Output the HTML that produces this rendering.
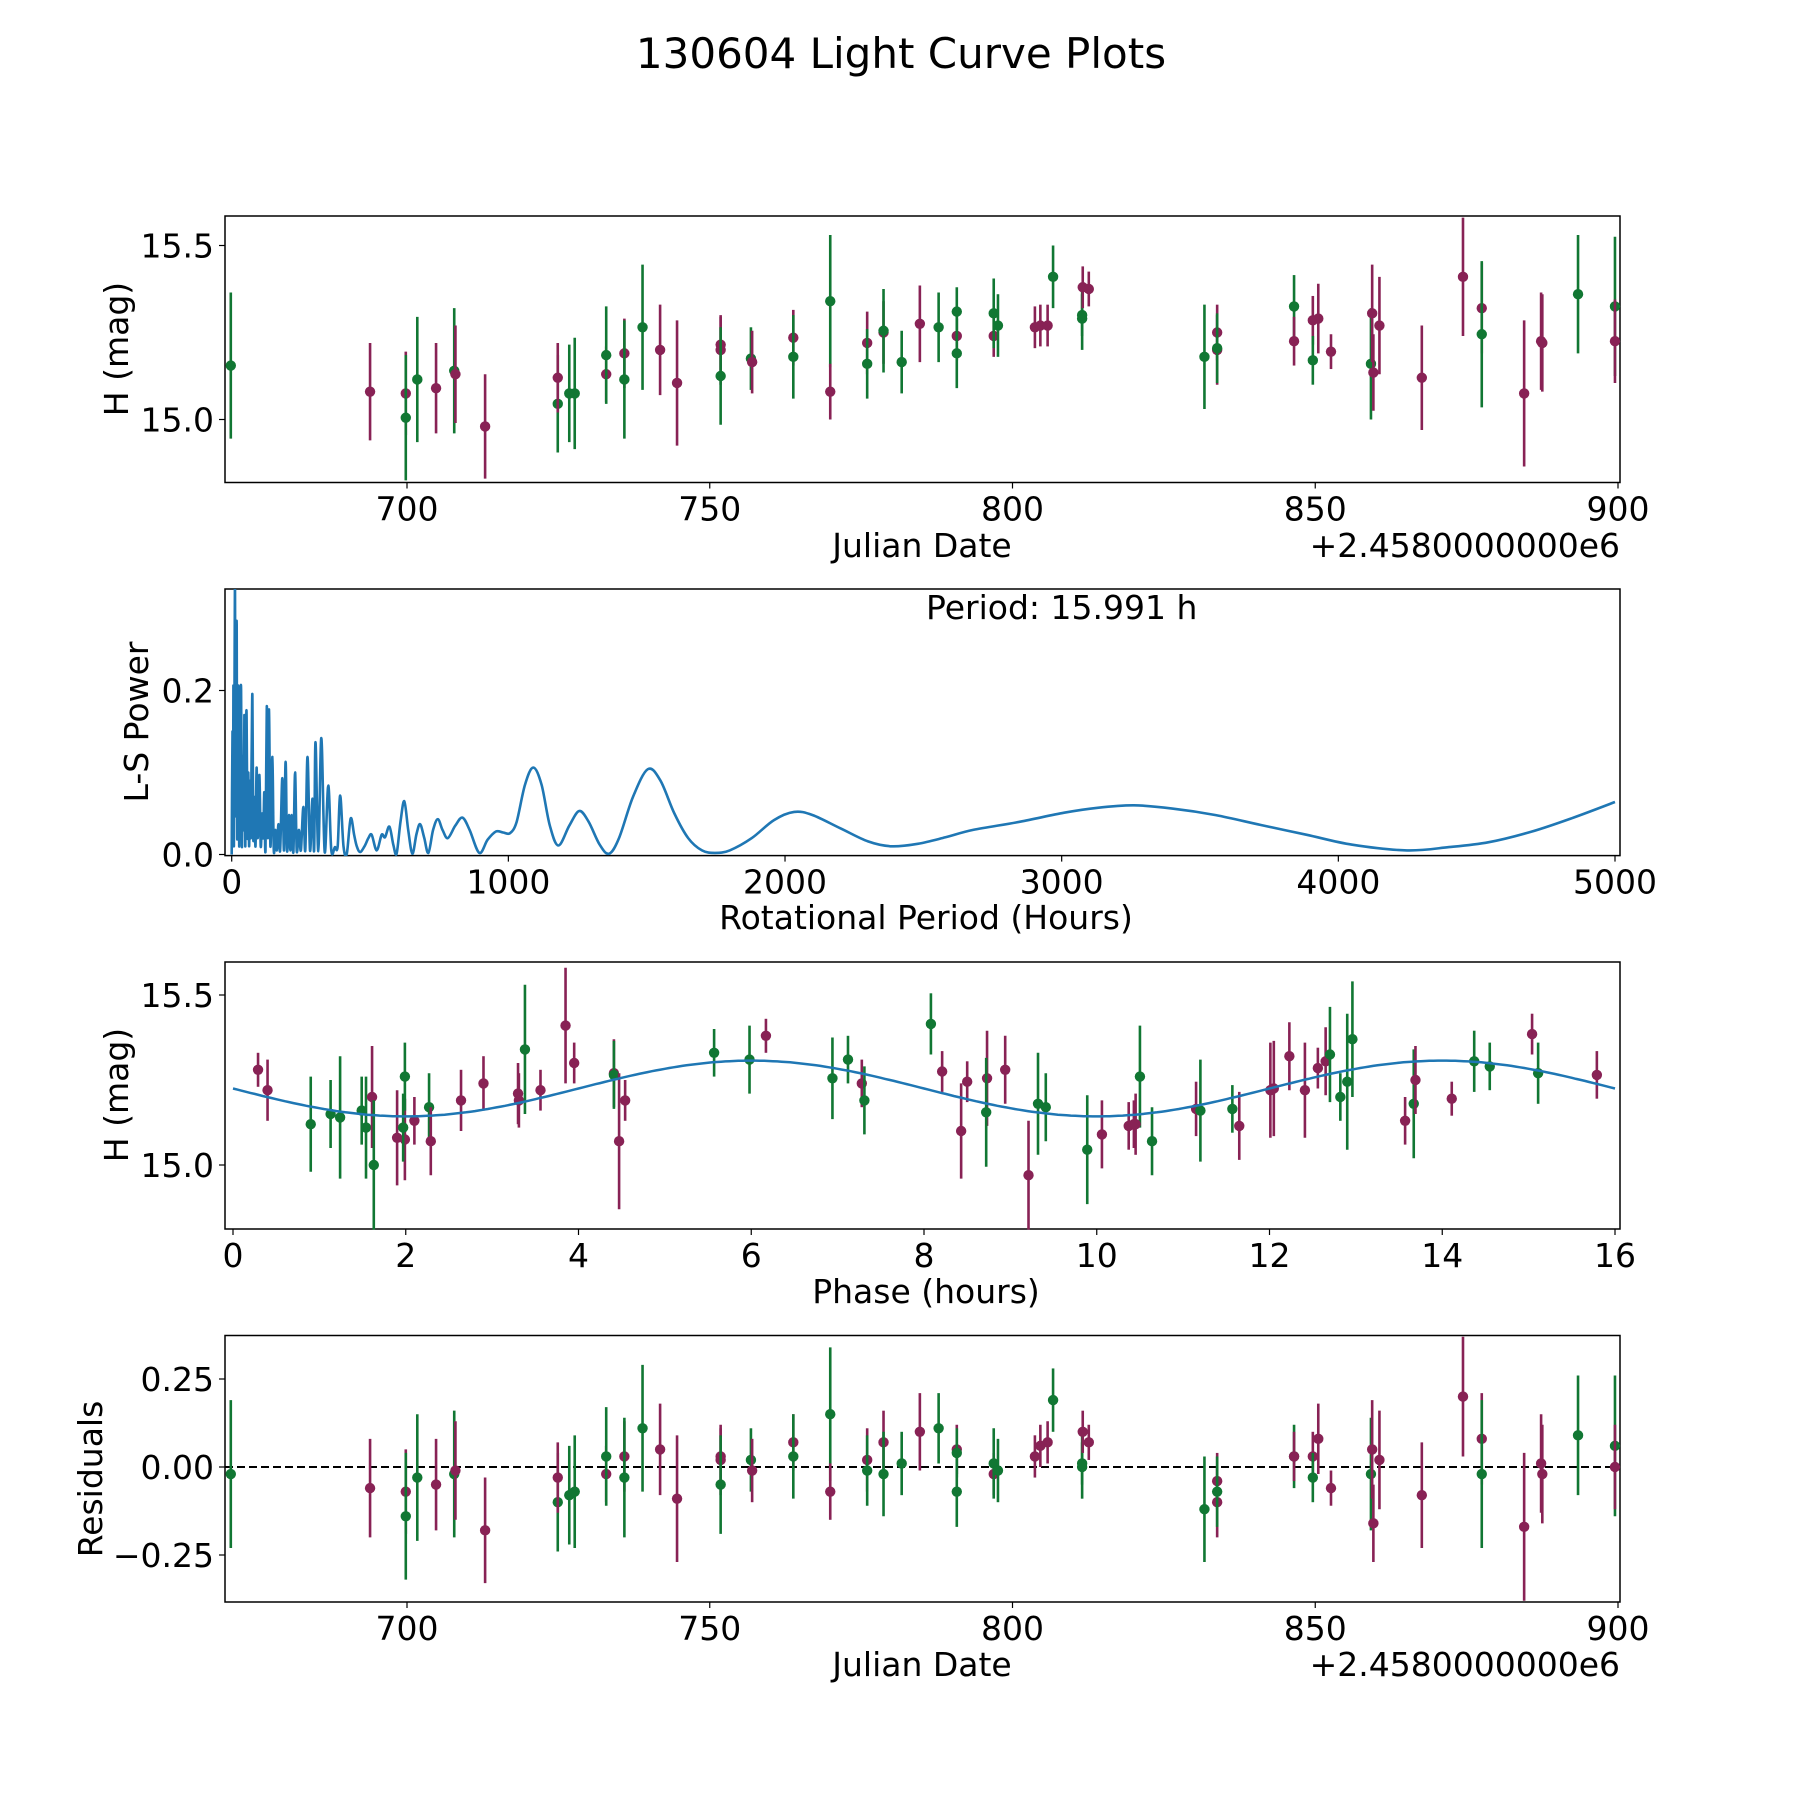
<!DOCTYPE html>
<html><head><meta charset="utf-8"><title>130604 Light Curve Plots</title>
<style>html,body{margin:0;padding:0;background:#fff}svg{display:block}text{font-family:"DejaVu Sans","Liberation Sans",sans-serif;fill:#000}</style>
</head><body>
<svg id="fig" width="1800" height="1800" viewBox="0 0 1800 1800" xmlns="http://www.w3.org/2000/svg">
<rect width="1800" height="1800" fill="#fff"/>
<text x="901" y="68" font-size="42" text-anchor="middle">130604 Light Curve Plots</text>
<defs><clipPath id="clip2"><rect x="225" y="589" width="1395" height="267"/></clipPath></defs>
</svg>
<script>
// ---- light curve data (JD offset from 2458000) ----
const jdDates = [670.9,693.9,699.8,699.8,701.7,704.8,707.8,708.0,712.9,724.9,724.9,726.8,727.7,732.9,732.9,735.9,735.9,738.9,741.8,744.6,751.8,751.8,751.8,756.8,757.0,763.8,763.8,769.9,769.9,776.0,776.0,778.7,778.7,781.7,784.7,787.8,790.8,790.8,790.8,796.9,796.9,797.6,803.7,804.6,805.8,806.7,811.5,811.5,811.6,812.6,831.7,833.8,833.8,833.8,846.5,846.5,849.6,849.6,850.5,852.6,859.2,859.4,859.6,860.6,867.6,874.4,877.5,877.5,884.5,887.3,887.5,893.4,899.5,899.5];
const hMag = [15.155,15.08,15.075,15.005,15.115,15.09,15.14,15.13,14.98,15.045,15.12,15.075,15.075,15.13,15.185,15.19,15.115,15.265,15.2,15.105,15.215,15.2,15.125,15.175,15.165,15.235,15.18,15.34,15.08,15.22,15.16,15.25,15.255,15.165,15.275,15.265,15.24,15.31,15.19,15.24,15.305,15.27,15.265,15.27,15.27,15.41,15.29,15.3,15.38,15.375,15.18,15.25,15.2,15.205,15.325,15.225,15.285,15.17,15.29,15.195,15.16,15.305,15.135,15.27,15.12,15.41,15.32,15.245,15.075,15.225,15.22,15.36,15.325,15.225];
const hErr = [0.21,0.14,0.12,0.18,0.18,0.13,0.18,0.14,0.15,0.14,0.10,0.14,0.16,0.08,0.14,0.10,0.17,0.18,0.13,0.18,0.08,0.10,0.14,0.09,0.09,0.08,0.12,0.19,0.08,0.09,0.10,0.09,0.12,0.09,0.11,0.10,0.07,0.07,0.10,0.06,0.10,0.09,0.06,0.06,0.06,0.09,0.09,0.06,0.06,0.05,0.15,0.08,0.10,0.10,0.09,0.07,0.07,0.07,0.10,0.05,0.16,0.14,0.11,0.14,0.15,0.17,0.13,0.21,0.21,0.14,0.14,0.17,0.20,0.12];
const filterBand = ["g","p","p","g","g","p","g","p","p","g","p","g","g","p","g","p","g","g","p","p","p","p","g","g","p","p","g","g","p","p","g","p","g","g","p","g","p","g","g","p","g","g","p","p","p","g","g","g","p","p","g","p","p","g","g","p","p","g","p","p","g","p","p","p","p","p","p","g","p","p","p","g","g","p"];
const residuals = [-0.02,-0.06,-0.07,-0.14,-0.03,-0.05,-0.02,-0.01,-0.18,-0.10,-0.03,-0.08,-0.07,-0.02,0.03,0.03,-0.03,0.11,0.05,-0.09,0.03,0.02,-0.05,0.02,-0.01,0.07,0.03,0.15,-0.07,0.02,-0.01,0.07,-0.02,0.01,0.10,0.11,0.05,0.04,-0.07,-0.02,0.01,-0.01,0.03,0.06,0.07,0.19,0.00,0.01,0.10,0.07,-0.12,-0.04,-0.10,-0.07,0.03,0.03,0.03,-0.03,0.08,-0.06,-0.02,0.05,-0.16,0.02,-0.08,0.20,0.08,-0.02,-0.17,0.01,-0.02,0.09,0.06,0.00];
// ---- phase-folded data ----
const phaseHours = [0.29,0.40,0.90,1.13,1.24,1.49,1.54,1.61,1.63,1.90,1.99,1.97,1.99,2.10,2.27,2.29,2.64,2.90,3.30,3.31,3.38,3.56,3.85,3.95,4.41,4.41,4.47,4.54,5.57,5.98,6.17,6.94,7.12,7.28,7.31,8.08,8.21,8.43,8.50,8.73,8.72,8.94,9.21,9.32,9.41,9.89,10.06,10.37,10.43,10.50,10.45,10.64,11.15,11.20,11.57,11.65,12.01,12.05,12.23,12.41,12.56,12.65,12.70,12.82,12.90,12.96,13.57,13.67,13.69,14.11,14.37,14.55,15.04,15.11,15.79];
const phaseMag = [15.28,15.22,15.12,15.15,15.14,15.16,15.11,15.20,15.00,15.08,15.075,15.11,15.26,15.13,15.17,15.07,15.19,15.24,15.21,15.19,15.34,15.22,15.41,15.30,15.27,15.265,15.07,15.19,15.33,15.31,15.38,15.255,15.31,15.24,15.19,15.415,15.275,15.10,15.245,15.255,15.155,15.28,14.97,15.18,15.17,15.045,15.09,15.115,15.12,15.26,15.12,15.07,15.165,15.16,15.165,15.115,15.22,15.225,15.32,15.22,15.285,15.305,15.325,15.20,15.245,15.37,15.13,15.18,15.25,15.195,15.305,15.29,15.385,15.27,15.265];
const phaseErr = [0.05,0.09,0.14,0.10,0.18,0.10,0.15,0.15,0.19,0.14,0.12,0.10,0.10,0.07,0.10,0.10,0.09,0.08,0.09,0.08,0.19,0.06,0.17,0.06,0.10,0.10,0.20,0.06,0.07,0.10,0.05,0.12,0.07,0.07,0.10,0.09,0.06,0.14,0.06,0.14,0.16,0.10,0.16,0.15,0.10,0.16,0.10,0.07,0.07,0.15,0.09,0.10,0.08,0.15,0.07,0.10,0.14,0.14,0.10,0.14,0.06,0.10,0.14,0.07,0.20,0.17,0.07,0.16,0.10,0.05,0.09,0.07,0.06,0.09,0.07];
const phaseBand = ["p","p","g","g","g","g","g","p","g","p","p","g","g","p","g","p","p","p","p","p","g","p","p","p","p","g","p","p","g","g","p","g","g","p","g","g","p","p","p","p","g","p","p","g","g","g","p","p","p","g","p","g","p","g","g","p","p","p","p","p","p","p","g","g","g","g","p","g","p","p","g","g","p","g","p"];
// fit model parameters
const fitMean = [15.225];
const fitAmp = [0.082];
const fitHalfPeriod = [8.0];
const fitPhase0 = [4.0];
// ---- periodogram ----
const pgHours = [0,3,5,6,8,10,12,14,16,18,20,22,24,27,30,34,37,40,43,46,49,52,54,57,60,63,66,69,72,75,78,82,86,90,94,100,105,110,114,118,122,127,131,135,140,147,152,158,163,169,175,183,189,195,200,207,212,217,223,229,235,243,250,259,266,274,283,292,298,303,313,324,336,349,360,373,383,392,404,416,430,443,452,464,480,494,506,524,542,554,570,584,596,610,624,638,653,668,681,696,711,728,745,762,781,808,834,860,895,925,955,980,1006,1030,1060,1090,1120,1150,1181,1220,1256,1290,1330,1364,1400,1450,1504,1550,1600,1650,1700,1747,1800,1880,1960,2033,2100,2200,2300,2384,2480,2580,2680,2850,3009,3130,3261,3400,3557,3720,3886,4050,4248,4400,4544,4700,4850,5000];
const pgPower = [0,0.15,0.02,0.206,0.01,0.2,0.33,0.05,0.18,0.28,0.02,0.17,0.194,0.01,0.15,0.2,0.01,0.12,0.03,0.17,0.01,0.14,0.168,0.02,0.1,0.01,0.09,0.02,0.12,0.193,0.02,0.07,0.01,0.106,0.02,0.097,0.01,0.05,0.02,0.076,0.005,0.181,0.02,0.177,0.01,0.119,0.005,0.03,0.005,0.037,0.005,0.093,0.005,0.113,0.005,0.048,0.005,0.048,0.003,0.1,0.005,0.03,0.005,0.058,0.005,0.119,0.005,0.068,0.005,0.137,0.004,0.142,0.003,0.084,0.005,0.009,0.01,0.072,0.01,0.001,0.044,0.023,0.01,0.003,0.01,0.02,0.024,0.005,0.024,0.021,0.034,0.012,0.001,0.04,0.065,0.03,0.001,0.025,0.037,0.02,0.002,0.03,0.043,0.03,0.02,0.035,0.045,0.03,0.002,0.018,0.028,0.027,0.026,0.04,0.085,0.106,0.085,0.035,0.011,0.035,0.053,0.04,0.012,0.001,0.02,0.07,0.104,0.09,0.05,0.02,0.005,0.002,0.005,0.02,0.042,0.052,0.048,0.032,0.016,0.010,0.013,0.021,0.030,0.040,0.051,0.057,0.060,0.056,0.048,0.036,0.024,0.012,0.005,0.009,0.015,0.028,0.045,0.064];
const jdTicks = [700,750,800,850,900];
const magTicks = [15.0,15.5];
const pgXTicks = [0,1000,2000,3000,4000,5000];
const pgYTicks = [0.0,0.2];
const phaseTicks = [0,2,4,6,8,10,12,14,16];
const residTicks = [-0.25,0,0.25];

const NS = "http://www.w3.org/2000/svg";
const svg = document.getElementById('fig');
const COL = {g:"#117733", p:"#882255"};
function mk(tag, attrs, parent){const e=document.createElementNS(NS,tag);for(const k in attrs)e.setAttribute(k,attrs[k]);(parent||svg).appendChild(e);return e;}
function lin(d0,d1,r0,r1){return v=>r0+(v-d0)*(r1-r0)/(d1-d0);}
const L=225,R=1620;
const panels=[{top:216,bot:482.5},{top:589,bot:855.6},{top:962,bot:1229},{top:1335.5,bot:1602}];
const xJD = lin(700,900,407,1618);
const y1 = lin(15.0,15.5,419.5,245.5);
const xPG = lin(0,5000,231.7,1615);
const yPG = lin(0,0.2,854.5,690.5);
const xPH = lin(0,16,233,1615);
const y3 = lin(15.0,15.5,1165,995);
const y4 = lin(0,0.25,1467,1379);
const fmtMinus = s => s.replace('-', '\u2212');

function axesFrame(p, name){
  const r=mk('rect',{x:L,y:p.top,width:R-L,height:p.bot-p.top,fill:'none',stroke:'#000','stroke-width':1.5});
  
  
}
function xTicks(p, ticks, fx, fmt, name){
  const g=mk('g',{});
  
  
  ticks.forEach(t=>{const x=fx(t);mk('line',{x1:x,x2:x,y1:p.bot,y2:p.bot+6,stroke:'#000','stroke-width':1.2},g);
    const tx=mk('text',{x:x,y:p.bot+38,'font-size':33,'text-anchor':'middle'},g);tx.textContent=fmt(t);});
}
function yTicks(p, ticks, fy, fmt, name){
  const g=mk('g',{});
  
  
  ticks.forEach(t=>{const y=fy(t);mk('line',{x1:L-6,x2:L,y1:y,y2:y,stroke:'#000','stroke-width':1.2},g);
    const tx=mk('text',{x:L-11,y:y+12,'font-size':33,'text-anchor':'end'},g);tx.textContent=fmt(t);});
}
function label(x,y,txt,rot,name,anchor){
  const t=mk('text',{x:x,y:y,'font-size':33,'text-anchor':anchor||'middle'});
  if(rot)t.setAttribute('transform','rotate(-90 '+x+' '+y+')');
  t.textContent=txt;
  
  
}
function errPoint(g,x,yc,ylo,yhi,col){
  mk('line',{x1:x,x2:x,y1:ylo,y2:yhi,stroke:col,'stroke-width':2.6},g);
  mk('circle',{cx:x,cy:yc,r:5.2,fill:col},g);
}

// Panel 1
axesFrame(panels[0],'lightcurve-axes');
const g1=mk('g',{});


jdDates.forEach((d,i)=>errPoint(g1,xJD(d),y1(hMag[i]),y1(hMag[i]-hErr[i]),y1(hMag[i]+hErr[i]),COL[filterBand[i]]));
xTicks(panels[0],jdTicks,xJD,t=>String(t),'lightcurve-x-ticks');
yTicks(panels[0],magTicks,y1,t=>t.toFixed(1),'lightcurve-y-ticks');
label(922,557,'Julian Date',false,'lightcurve-x-title');
label(1620,557,'+2.4580000000e6',false,'lightcurve-offset-text','end');
label(128,349,'H (mag)',true,'lightcurve-y-title');

// Panel 2 (Catmull-Rom smoothed)
axesFrame(panels[1],'periodogram-axes');
const P=pgHours.map((h,i)=>[xPG(h),yPG(pgPower[i])]);
let dp='M'+P[0][0].toFixed(1)+' '+P[0][1].toFixed(1);
for(let i=0;i<P.length-1;i++){
  const p0=P[Math.max(0,i-1)],p1=P[i],p2=P[i+1],p3=P[Math.min(P.length-1,i+2)];
  const c1x=p1[0]+(p2[0]-p0[0])/6,c1y=p1[1]+(p2[1]-p0[1])/6;
  const c2x=p2[0]-(p3[0]-p1[0])/6,c2y=p2[1]-(p3[1]-p1[1])/6;
  dp+='C'+c1x.toFixed(1)+' '+c1y.toFixed(1)+' '+c2x.toFixed(1)+' '+c2y.toFixed(1)+' '+p2[0].toFixed(1)+' '+p2[1].toFixed(1);
}
const pl=mk('path',{d:dp,fill:'none',stroke:'#1f77b4','stroke-width':2.6,'stroke-linejoin':'round','clip-path':'url(#clip2)'});


xTicks(panels[1],pgXTicks,xPG,t=>String(t),'periodogram-x-ticks');
yTicks(panels[1],pgYTicks,yPG,t=>t.toFixed(1),'periodogram-y-ticks');
label(926,929,'Rotational Period (Hours)',false,'periodogram-x-title');
label(148,722,'L-S Power',true,'periodogram-y-title');
label(926,619,'Period: 15.991 h',false,'period-annotation','start');

// Panel 3
axesFrame(panels[2],'phase-axes');
let dc='';for(let k=0;k<=320;k++){const ph=16*k/320;const m=fitMean[0]+fitAmp[0]*Math.sin(Math.PI*(ph-fitPhase0[0])/(fitHalfPeriod[0]/2));dc+=(k?'L':'M')+xPH(ph).toFixed(1)+' '+y3(m).toFixed(1);}
const g3=mk('g',{});


phaseHours.forEach((ph,i)=>errPoint(g3,xPH(ph),y3(phaseMag[i]),y3(phaseMag[i]-phaseErr[i]),y3(phaseMag[i]+phaseErr[i]),COL[phaseBand[i]]));
const fl=mk('path',{d:dc,fill:'none',stroke:'#1f77b4','stroke-width':2.5});


xTicks(panels[2],phaseTicks,xPH,t=>String(t),'phase-x-ticks');
yTicks(panels[2],magTicks,y3,t=>t.toFixed(1),'phase-y-ticks');
label(926,1303,'Phase (hours)',false,'phase-x-title');
label(128,1095,'H (mag)',true,'phase-y-title');

// Panel 4
axesFrame(panels[3],'residual-axes');
const zl=mk('line',{x1:L,x2:R,y1:y4(0),y2:y4(0),stroke:'#000','stroke-width':2,'stroke-dasharray':'8,4'});


const g4=mk('g',{});


jdDates.forEach((d,i)=>errPoint(g4,xJD(d),y4(residuals[i]),y4(residuals[i]-hErr[i]),y4(residuals[i]+hErr[i]),COL[filterBand[i]]));
xTicks(panels[3],jdTicks,xJD,t=>String(t),'residual-x-ticks');
yTicks(panels[3],residTicks,y4,t=>fmtMinus(t.toFixed(2)),'residual-y-ticks');
label(922,1676,'Julian Date',false,'residual-x-title');
label(1620,1676,'+2.4580000000e6',false,'residual-offset-text','end');
label(102,1479,'Residuals',true,'residual-y-title');
</script>
</body></html>
